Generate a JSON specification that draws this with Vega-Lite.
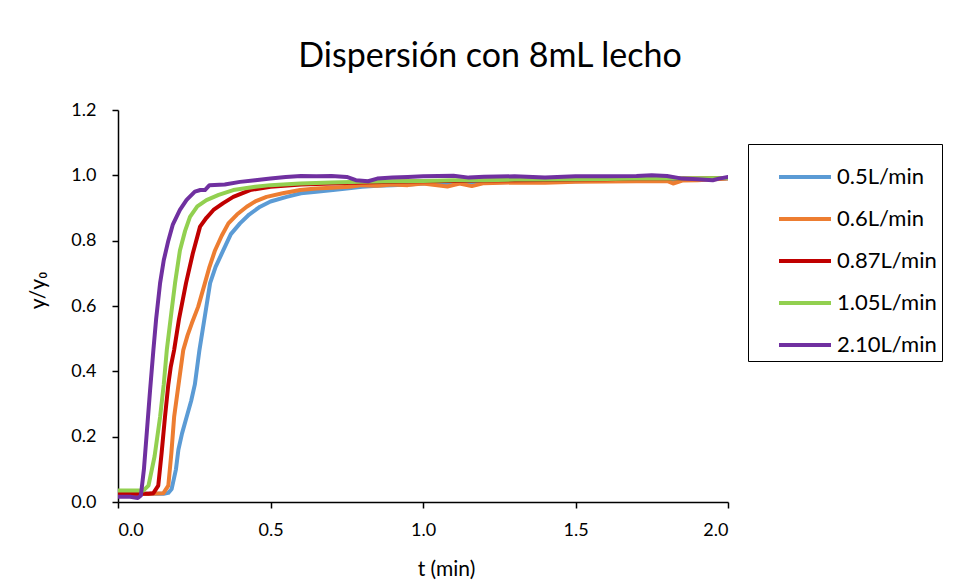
{
  "$schema": "https://vega.github.io/schema/vega-lite/v6.json",
  "width": 610,
  "height": 392,
  "autosize": {"type": "none"},
  "padding": {"left": 118, "top": 110, "right": 229, "bottom": 80},
  "background": "white",
  "config": {
    "font": "Lato",
    "view": {"stroke": null},
    "axis": {"grid": false, "domainColor": "black", "domainWidth": 1.5, "tickColor": "black", "tickWidth": 1.5, "tickSize": 6, "labelFont": "Lato", "labelFontSize": 18, "labelColor": "#000000", "titleFont": "Lato", "titleFontSize": 21, "titleFontWeight": "normal", "titleColor": "#000000"}
  },
  "title": {"text": "Dispersión con 8mL lecho", "font": "Lato", "fontSize": 34, "fontWeight": "normal", "color": "#000000", "anchor": "middle", "dx": 67, "offset": 27},
  "datasets": {
    "curves": [
      {"s": "0.5L/min", "t": 0, "v": 0.025}, {"s": "0.5L/min", "t": 0.05, "v": 0.025}, {"s": "0.5L/min", "t": 0.1, "v": 0.025}, {"s": "0.5L/min", "t": 0.15, "v": 0.025}, {"s": "0.5L/min", "t": 0.165, "v": 0.028}, {"s": "0.5L/min", "t": 0.176, "v": 0.04}, {"s": "0.5L/min", "t": 0.19, "v": 0.1}, {"s": "0.5L/min", "t": 0.198, "v": 0.16}, {"s": "0.5L/min", "t": 0.21, "v": 0.21}, {"s": "0.5L/min", "t": 0.225, "v": 0.26}, {"s": "0.5L/min", "t": 0.24, "v": 0.31}, {"s": "0.5L/min", "t": 0.252, "v": 0.36}, {"s": "0.5L/min", "t": 0.267, "v": 0.465}, {"s": "0.5L/min", "t": 0.285, "v": 0.57}, {"s": "0.5L/min", "t": 0.302, "v": 0.67}, {"s": "0.5L/min", "t": 0.32, "v": 0.72}, {"s": "0.5L/min", "t": 0.345, "v": 0.77}, {"s": "0.5L/min", "t": 0.37, "v": 0.82}, {"s": "0.5L/min", "t": 0.4, "v": 0.853}, {"s": "0.5L/min", "t": 0.43, "v": 0.88}, {"s": "0.5L/min", "t": 0.466, "v": 0.904}, {"s": "0.5L/min", "t": 0.5, "v": 0.92}, {"s": "0.5L/min", "t": 0.553, "v": 0.934}, {"s": "0.5L/min", "t": 0.6, "v": 0.945}, {"s": "0.5L/min", "t": 0.65, "v": 0.95}, {"s": "0.5L/min", "t": 0.705, "v": 0.955}, {"s": "0.5L/min", "t": 0.75, "v": 0.96}, {"s": "0.5L/min", "t": 0.8, "v": 0.965}, {"s": "0.5L/min", "t": 0.85, "v": 0.968}, {"s": "0.5L/min", "t": 0.9, "v": 0.97}, {"s": "0.5L/min", "t": 0.95, "v": 0.972}, {"s": "0.5L/min", "t": 1.0, "v": 0.975}, {"s": "0.5L/min", "t": 1.1, "v": 0.977}, {"s": "0.5L/min", "t": 1.2, "v": 0.978}, {"s": "0.5L/min", "t": 1.3, "v": 0.98}, {"s": "0.5L/min", "t": 1.4, "v": 0.98}, {"s": "0.5L/min", "t": 1.5, "v": 0.982}, {"s": "0.5L/min", "t": 1.6, "v": 0.984}, {"s": "0.5L/min", "t": 1.7, "v": 0.985}, {"s": "0.5L/min", "t": 1.8, "v": 0.986}, {"s": "0.5L/min", "t": 1.9, "v": 0.988}, {"s": "0.5L/min", "t": 2.0, "v": 0.99},
      {"s": "0.6L/min", "t": 0, "v": 0.025}, {"s": "0.6L/min", "t": 0.05, "v": 0.025}, {"s": "0.6L/min", "t": 0.1, "v": 0.025}, {"s": "0.6L/min", "t": 0.149, "v": 0.027}, {"s": "0.6L/min", "t": 0.165, "v": 0.05}, {"s": "0.6L/min", "t": 0.175, "v": 0.15}, {"s": "0.6L/min", "t": 0.184, "v": 0.26}, {"s": "0.6L/min", "t": 0.2, "v": 0.37}, {"s": "0.6L/min", "t": 0.214, "v": 0.465}, {"s": "0.6L/min", "t": 0.228, "v": 0.51}, {"s": "0.6L/min", "t": 0.242, "v": 0.547}, {"s": "0.6L/min", "t": 0.263, "v": 0.598}, {"s": "0.6L/min", "t": 0.285, "v": 0.67}, {"s": "0.6L/min", "t": 0.3, "v": 0.72}, {"s": "0.6L/min", "t": 0.318, "v": 0.77}, {"s": "0.6L/min", "t": 0.34, "v": 0.815}, {"s": "0.6L/min", "t": 0.362, "v": 0.853}, {"s": "0.6L/min", "t": 0.39, "v": 0.88}, {"s": "0.6L/min", "t": 0.422, "v": 0.904}, {"s": "0.6L/min", "t": 0.45, "v": 0.92}, {"s": "0.6L/min", "t": 0.487, "v": 0.934}, {"s": "0.6L/min", "t": 0.54, "v": 0.945}, {"s": "0.6L/min", "t": 0.597, "v": 0.955}, {"s": "0.6L/min", "t": 0.65, "v": 0.96}, {"s": "0.6L/min", "t": 0.7, "v": 0.962}, {"s": "0.6L/min", "t": 0.76, "v": 0.965}, {"s": "0.6L/min", "t": 0.8, "v": 0.97}, {"s": "0.6L/min", "t": 0.85, "v": 0.968}, {"s": "0.6L/min", "t": 0.9, "v": 0.972}, {"s": "0.6L/min", "t": 0.95, "v": 0.97}, {"s": "0.6L/min", "t": 1.0, "v": 0.975}, {"s": "0.6L/min", "t": 1.08, "v": 0.966}, {"s": "0.6L/min", "t": 1.12, "v": 0.975}, {"s": "0.6L/min", "t": 1.16, "v": 0.967}, {"s": "0.6L/min", "t": 1.2, "v": 0.976}, {"s": "0.6L/min", "t": 1.3, "v": 0.978}, {"s": "0.6L/min", "t": 1.4, "v": 0.977}, {"s": "0.6L/min", "t": 1.5, "v": 0.98}, {"s": "0.6L/min", "t": 1.6, "v": 0.981}, {"s": "0.6L/min", "t": 1.7, "v": 0.982}, {"s": "0.6L/min", "t": 1.8, "v": 0.983}, {"s": "0.6L/min", "t": 1.82, "v": 0.975}, {"s": "0.6L/min", "t": 1.85, "v": 0.984}, {"s": "0.6L/min", "t": 1.9, "v": 0.985}, {"s": "0.6L/min", "t": 2.0, "v": 0.99},
      {"s": "0.87L/min", "t": 0, "v": 0.025}, {"s": "0.87L/min", "t": 0.05, "v": 0.025}, {"s": "0.87L/min", "t": 0.1, "v": 0.025}, {"s": "0.87L/min", "t": 0.116, "v": 0.027}, {"s": "0.87L/min", "t": 0.132, "v": 0.05}, {"s": "0.87L/min", "t": 0.143, "v": 0.15}, {"s": "0.87L/min", "t": 0.154, "v": 0.26}, {"s": "0.87L/min", "t": 0.165, "v": 0.36}, {"s": "0.87L/min", "t": 0.173, "v": 0.414}, {"s": "0.87L/min", "t": 0.184, "v": 0.465}, {"s": "0.87L/min", "t": 0.2, "v": 0.56}, {"s": "0.87L/min", "t": 0.223, "v": 0.67}, {"s": "0.87L/min", "t": 0.245, "v": 0.76}, {"s": "0.87L/min", "t": 0.269, "v": 0.843}, {"s": "0.87L/min", "t": 0.29, "v": 0.87}, {"s": "0.87L/min", "t": 0.313, "v": 0.894}, {"s": "0.87L/min", "t": 0.345, "v": 0.915}, {"s": "0.87L/min", "t": 0.378, "v": 0.934}, {"s": "0.87L/min", "t": 0.433, "v": 0.955}, {"s": "0.87L/min", "t": 0.5, "v": 0.965}, {"s": "0.87L/min", "t": 0.6, "v": 0.972}, {"s": "0.87L/min", "t": 0.7, "v": 0.975}, {"s": "0.87L/min", "t": 0.8, "v": 0.978}, {"s": "0.87L/min", "t": 0.9, "v": 0.98}, {"s": "0.87L/min", "t": 1.0, "v": 0.982}, {"s": "0.87L/min", "t": 1.1, "v": 0.983}, {"s": "0.87L/min", "t": 1.2, "v": 0.984}, {"s": "0.87L/min", "t": 1.3, "v": 0.985}, {"s": "0.87L/min", "t": 1.4, "v": 0.986}, {"s": "0.87L/min", "t": 1.5, "v": 0.987}, {"s": "0.87L/min", "t": 1.6, "v": 0.988}, {"s": "0.87L/min", "t": 1.7, "v": 0.99}, {"s": "0.87L/min", "t": 1.8, "v": 0.99}, {"s": "0.87L/min", "t": 1.9, "v": 0.99}, {"s": "0.87L/min", "t": 2.0, "v": 0.992},
      {"s": "1.05L/min", "t": 0, "v": 0.035}, {"s": "1.05L/min", "t": 0.05, "v": 0.035}, {"s": "1.05L/min", "t": 0.083, "v": 0.035}, {"s": "1.05L/min", "t": 0.1, "v": 0.05}, {"s": "1.05L/min", "t": 0.12, "v": 0.14}, {"s": "1.05L/min", "t": 0.138, "v": 0.26}, {"s": "1.05L/min", "t": 0.15, "v": 0.36}, {"s": "1.05L/min", "t": 0.16, "v": 0.465}, {"s": "1.05L/min", "t": 0.175, "v": 0.58}, {"s": "1.05L/min", "t": 0.187, "v": 0.67}, {"s": "1.05L/min", "t": 0.203, "v": 0.77}, {"s": "1.05L/min", "t": 0.22, "v": 0.83}, {"s": "1.05L/min", "t": 0.236, "v": 0.873}, {"s": "1.05L/min", "t": 0.26, "v": 0.905}, {"s": "1.05L/min", "t": 0.29, "v": 0.924}, {"s": "1.05L/min", "t": 0.33, "v": 0.94}, {"s": "1.05L/min", "t": 0.378, "v": 0.955}, {"s": "1.05L/min", "t": 0.45, "v": 0.965}, {"s": "1.05L/min", "t": 0.5, "v": 0.97}, {"s": "1.05L/min", "t": 0.597, "v": 0.975}, {"s": "1.05L/min", "t": 0.7, "v": 0.978}, {"s": "1.05L/min", "t": 0.8, "v": 0.98}, {"s": "1.05L/min", "t": 0.9, "v": 0.982}, {"s": "1.05L/min", "t": 1.0, "v": 0.983}, {"s": "1.05L/min", "t": 1.1, "v": 0.985}, {"s": "1.05L/min", "t": 1.2, "v": 0.985}, {"s": "1.05L/min", "t": 1.3, "v": 0.987}, {"s": "1.05L/min", "t": 1.4, "v": 0.987}, {"s": "1.05L/min", "t": 1.5, "v": 0.988}, {"s": "1.05L/min", "t": 1.6, "v": 0.989}, {"s": "1.05L/min", "t": 1.7, "v": 0.99}, {"s": "1.05L/min", "t": 1.8, "v": 0.99}, {"s": "1.05L/min", "t": 1.9, "v": 0.991}, {"s": "1.05L/min", "t": 2.0, "v": 0.992},
      {"s": "2.10L/min", "t": 0, "v": 0.016}, {"s": "2.10L/min", "t": 0.04, "v": 0.016}, {"s": "2.10L/min", "t": 0.065, "v": 0.012}, {"s": "2.10L/min", "t": 0.075, "v": 0.02}, {"s": "2.10L/min", "t": 0.085, "v": 0.1}, {"s": "2.10L/min", "t": 0.095, "v": 0.22}, {"s": "2.10L/min", "t": 0.105, "v": 0.34}, {"s": "2.10L/min", "t": 0.116, "v": 0.465}, {"s": "2.10L/min", "t": 0.125, "v": 0.56}, {"s": "2.10L/min", "t": 0.138, "v": 0.67}, {"s": "2.10L/min", "t": 0.15, "v": 0.74}, {"s": "2.10L/min", "t": 0.165, "v": 0.8}, {"s": "2.10L/min", "t": 0.18, "v": 0.85}, {"s": "2.10L/min", "t": 0.203, "v": 0.894}, {"s": "2.10L/min", "t": 0.225, "v": 0.925}, {"s": "2.10L/min", "t": 0.252, "v": 0.95}, {"s": "2.10L/min", "t": 0.27, "v": 0.955}, {"s": "2.10L/min", "t": 0.285, "v": 0.955}, {"s": "2.10L/min", "t": 0.3, "v": 0.97}, {"s": "2.10L/min", "t": 0.35, "v": 0.972}, {"s": "2.10L/min", "t": 0.4, "v": 0.98}, {"s": "2.10L/min", "t": 0.45, "v": 0.985}, {"s": "2.10L/min", "t": 0.5, "v": 0.99}, {"s": "2.10L/min", "t": 0.55, "v": 0.995}, {"s": "2.10L/min", "t": 0.6, "v": 0.998}, {"s": "2.10L/min", "t": 0.65, "v": 0.997}, {"s": "2.10L/min", "t": 0.7, "v": 0.998}, {"s": "2.10L/min", "t": 0.75, "v": 0.995}, {"s": "2.10L/min", "t": 0.78, "v": 0.985}, {"s": "2.10L/min", "t": 0.82, "v": 0.982}, {"s": "2.10L/min", "t": 0.85, "v": 0.99}, {"s": "2.10L/min", "t": 0.9, "v": 0.993}, {"s": "2.10L/min", "t": 0.95, "v": 0.995}, {"s": "2.10L/min", "t": 1.0, "v": 0.997}, {"s": "2.10L/min", "t": 1.05, "v": 0.998}, {"s": "2.10L/min", "t": 1.1, "v": 0.999}, {"s": "2.10L/min", "t": 1.15, "v": 0.993}, {"s": "2.10L/min", "t": 1.2, "v": 0.996}, {"s": "2.10L/min", "t": 1.3, "v": 0.997}, {"s": "2.10L/min", "t": 1.4, "v": 0.993}, {"s": "2.10L/min", "t": 1.5, "v": 0.997}, {"s": "2.10L/min", "t": 1.6, "v": 0.997}, {"s": "2.10L/min", "t": 1.7, "v": 0.998}, {"s": "2.10L/min", "t": 1.75, "v": 1.0}, {"s": "2.10L/min", "t": 1.8, "v": 0.998}, {"s": "2.10L/min", "t": 1.85, "v": 0.99}, {"s": "2.10L/min", "t": 1.9, "v": 0.988}, {"s": "2.10L/min", "t": 1.95, "v": 0.985}, {"s": "2.10L/min", "t": 1.97, "v": 0.99}, {"s": "2.10L/min", "t": 2.0, "v": 0.995}
    ]
  },
  "data": {"name": "curves"},
  "mark": {"type": "line", "strokeWidth": 4, "strokeJoin": "round", "strokeCap": "round", "clip": true},
  "encoding": {
    "x": {"field": "t", "type": "quantitative", "scale": {"domain": [0, 2]}, "axis": {"title": "t (min)", "values": [0, 0.5, 1, 1.5, 2], "format": ".1f", "labelPadding": 13, "titlePadding": 19, "titleX": 328}},
    "y": {"field": "v", "type": "quantitative", "scale": {"domain": [0, 1.2]}, "axis": {"title": "y/y₀", "values": [0, 0.2, 0.4, 0.6, 0.8, 1.0, 1.2], "format": ".1f", "labelPadding": 16, "titlePadding": 22, "titleY": 180}},
    "color": {"field": "s", "type": "nominal", "scale": {"domain": ["0.5L/min", "0.6L/min", "0.87L/min", "1.05L/min", "2.10L/min"], "range": ["#5B9BD5", "#ED7D31", "#C00000", "#92D050", "#7030A0"]},
      "legend": {"title": null, "orient": "none", "legendX": 630, "legendY": 34, "symbolType": "stroke", "symbolStrokeWidth": 4, "symbolSize": 2704, "symbolOffset": 24, "labelFont": "Lato", "labelFontSize": 22, "labelColor": "#000000", "labelOffset": 4, "rowPadding": 3, "padding": 5, "strokeColor": "black", "fillColor": "white"}}
  }
}
